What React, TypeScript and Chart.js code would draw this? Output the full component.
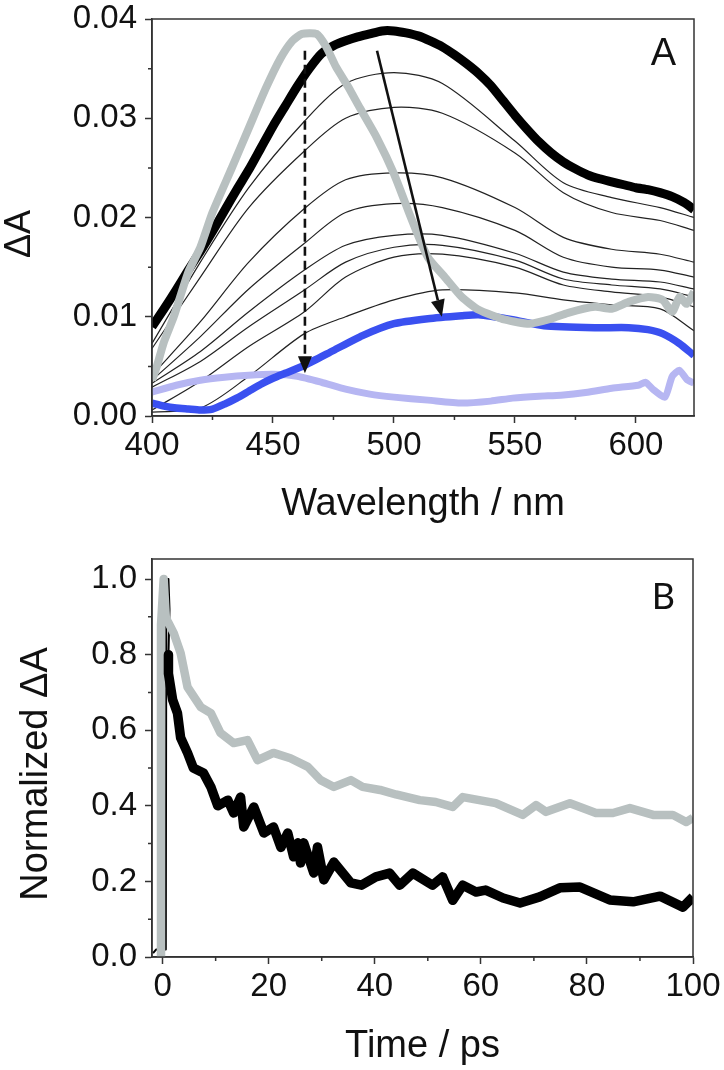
import React, { useEffect, useRef } from "react";
import { Chart, registerables } from "chart.js";

Chart.register(...registerables);

// ---------------- Panel A: transient spectra ----------------
const waveBlackThick = [400, 405, 410, 415, 420, 425, 430, 435, 440, 445, 450, 455, 460, 465, 470, 475, 480, 485, 490, 495, 500, 505, 510, 515, 520, 525, 530, 535, 540, 545, 550, 555, 560, 565, 570, 575, 580, 585, 590, 595, 600, 605, 610, 615, 620, 624];
const dABlackThick = [0.009, 0.0108, 0.0127, 0.0147, 0.0166, 0.0186, 0.0207, 0.0228, 0.0248, 0.027, 0.0292, 0.0312, 0.0332, 0.035, 0.0365, 0.0373, 0.0378, 0.0382, 0.0385, 0.0388, 0.0388, 0.0386, 0.0383, 0.0378, 0.0372, 0.0364, 0.0355, 0.0345, 0.0333, 0.0318, 0.0303, 0.0289, 0.0276, 0.0265, 0.0256, 0.0249, 0.0243, 0.0239, 0.0236, 0.0233, 0.023, 0.0228, 0.0225, 0.0221, 0.0215, 0.0208];

const waveGrey = [400, 402, 405, 409, 415, 420, 425, 433, 440, 447, 453, 458, 462, 468, 472, 476, 481, 486, 493, 500, 507, 514, 521, 528, 535, 546, 556, 565, 572, 583, 590, 597, 605, 611, 615, 618, 621, 624];
const dAGrey = [0.0036, 0.005, 0.0075, 0.01, 0.0145, 0.017, 0.0205, 0.025, 0.029, 0.033, 0.036, 0.0378, 0.0385, 0.0385, 0.0372, 0.0352, 0.0332, 0.031, 0.028, 0.0244, 0.02, 0.016, 0.014, 0.012, 0.0107, 0.0097, 0.0093, 0.0098, 0.0104, 0.011, 0.0108, 0.0115, 0.012, 0.0117, 0.0105, 0.012, 0.0113, 0.0125];

const waveBlue = [400, 405, 410, 415, 420, 425, 430, 435, 440, 445, 450, 455, 463, 475, 487, 500, 514, 528, 535, 549, 562, 583, 597, 605, 611, 618, 624];
const dABlue = [0.0013, 0.001, 0.0008, 0.0007, 0.0006, 0.0007, 0.0012, 0.0018, 0.0025, 0.0032, 0.0038, 0.0043, 0.0051, 0.0066, 0.0081, 0.0093, 0.0098, 0.0101, 0.0102, 0.0097, 0.0091, 0.0089, 0.0089, 0.0087, 0.0083, 0.0073, 0.0061];

const waveLavender = [400, 410, 420, 430, 440, 450, 460, 470, 480, 490, 500, 514, 528, 540, 549, 560, 569, 580, 590, 601, 604, 607, 612, 615, 618, 621, 624];
const dALavender = [0.0024, 0.0031, 0.0036, 0.0039, 0.0041, 0.0042, 0.004, 0.0034, 0.0027, 0.0022, 0.0019, 0.0016, 0.0013, 0.0015, 0.0018, 0.002, 0.0021, 0.0024, 0.0028, 0.0031, 0.0034, 0.0027, 0.0019, 0.004, 0.0046, 0.0037, 0.0033];

const waveThin = [400, 420, 440, 463, 480, 500, 520, 550, 570, 590, 610, 624];
const dAThin1 = [0.0073, 0.0155, 0.023, 0.0297, 0.0335, 0.0346, 0.0335, 0.0277, 0.0235, 0.022, 0.021, 0.02];
const dAThin2 = [0.0068, 0.014, 0.021, 0.0267, 0.03, 0.0311, 0.0305, 0.0265, 0.0225, 0.0205, 0.0197, 0.0187];
const dAThin3 = [0.0041, 0.0095, 0.0155, 0.0209, 0.0238, 0.0245, 0.024, 0.021, 0.018, 0.0168, 0.0163, 0.0155];
const dAThin4 = [0.0036, 0.008, 0.0128, 0.0174, 0.0205, 0.0214, 0.021, 0.0187, 0.016, 0.015, 0.0147, 0.014];
const dAThin5 = [0.0033, 0.0065, 0.0105, 0.0147, 0.0172, 0.0182, 0.0182, 0.0164, 0.0145, 0.0138, 0.0135, 0.0128];
const dAThin6 = [0.0029, 0.0055, 0.009, 0.0127, 0.0155, 0.017, 0.0172, 0.0157, 0.0138, 0.0132, 0.0128, 0.012];
const dAThin7 = [0.0006, 0.0035, 0.007, 0.0105, 0.014, 0.016, 0.0163, 0.015, 0.0132, 0.0125, 0.012, 0.011];
const dAThin8 = [0.0004, 0.0008, 0.004, 0.0083, 0.01, 0.0117, 0.0127, 0.0124, 0.0117, 0.0112, 0.0108, 0.0086];

const xTicksMinorA = [425, 475, 525, 575];
const yTicksMinorA = [0.005, 0.015, 0.025, 0.035];
const arrowSolidA = [[493, 0.0368], [519.8, 0.01]];
const arrowDashedA = [[463.2, 0.0368], [463.2, 0.0043]];

// ---------------- Panel B: kinetics ----------------
const timeGrey = [-0.3, -0.3, 0.2, 0.6, 0.9, 2.1, 3.4, 4.7, 7.2, 9.1, 10.9, 13.4, 16.0, 17.9, 20.9, 24.1, 27.4, 29.8, 32.3, 35.5, 37.7, 41, 44, 48.5, 51.5, 54.7, 56.6, 62.8, 67.9, 70.4, 72.3, 76.8, 81.7, 84.9, 88.1, 92.5, 96.2, 98.7, 100];
const normGrey = [0, 0.88, 1.0, 0.9, 0.89, 0.857, 0.804, 0.714, 0.661, 0.645, 0.593, 0.566, 0.574, 0.521, 0.54, 0.526, 0.503, 0.468, 0.45, 0.468, 0.45, 0.442, 0.43, 0.415, 0.41, 0.397, 0.423, 0.407, 0.376, 0.402, 0.384, 0.407, 0.381, 0.381, 0.394, 0.376, 0.376, 0.357, 0.368];

const timeBlackSpike = [-1.8, -1.2, 0.6, 0.7, 1.1, 1.3, 1.1];
const normBlackSpike = [0.01, 0.02, 0.02, 1.0, 1.0, 0.92, 0.8];

const timeBlack = [1.1, 1.1, 1.9, 2.8, 3.4, 4.7, 5.8, 7.7, 9.1, 10.4, 12.3, 13.4, 14.7, 15.3, 17.2, 19.1, 20.9, 22.3, 23.6, 24.7, 25.5, 26.0, 26.6, 28.5, 29.2, 30.4, 32.3, 35.5, 37.5, 40.2, 42.8, 44.7, 47.2, 50.9, 52.8, 54.7, 56.6, 59.1, 60.9, 64.2, 67.4, 71.1, 74.9, 78.7, 84.3, 88.7, 93.8, 98.1, 100];
const normBlack = [0.8, 0.75, 0.68, 0.645, 0.58, 0.54, 0.5, 0.487, 0.45, 0.4, 0.415, 0.381, 0.423, 0.344, 0.397, 0.328, 0.344, 0.29, 0.328, 0.265, 0.302, 0.249, 0.302, 0.222, 0.291, 0.204, 0.251, 0.196, 0.19, 0.212, 0.222, 0.19, 0.222, 0.19, 0.212, 0.15, 0.19, 0.172, 0.177, 0.156, 0.143, 0.159, 0.183, 0.185, 0.151, 0.146, 0.161, 0.132, 0.159];

const xTicksMinorB = [10, 30, 50, 70, 90];
const yTicksMinorB = [0.1, 0.3, 0.5, 0.7, 0.9];

// ---------------- helpers ----------------
const FONT = "Liberation Sans";
const AXIS = "#333333";
const TEXT = "#111111";

const pts = (xs: number[], ys: number[]) => xs.map((x, i) => ({ x, y: ys[i] }));

function line(data: { x: number; y: number }[], color: string, width: number, tension = 0) {
  return {
    data,
    borderColor: color,
    backgroundColor: color,
    borderWidth: width,
    pointRadius: 0,
    tension,
    fill: false,
    borderJoinStyle: "round" as const,
    borderCapStyle: "butt" as const,
  };
}

type Arrow = { pts: number[][]; dashed: boolean };

function panelPlugin(o: {
  minorX: number[];
  minorY: number[];
  xTitle: string;
  xTitleBaseline: number;
  yTitle: string;
  yTitleX: number;
  yTitleY: number;
  yTitleSize: number;
  letter: string;
  letterAt: number[];
  letterFont: string;
  arrows: Arrow[];
}) {
  return {
    id: "panelDecor",
    afterDatasetsDraw(chart: any) {
      const { ctx, chartArea: a } = chart;
      const xs = chart.scales.x;
      const ys = chart.scales.y;
      ctx.save();
      // arrows
      for (const ar of o.arrows) {
        const x1 = xs.getPixelForValue(ar.pts[0][0]);
        const y1 = ys.getPixelForValue(ar.pts[0][1]);
        const x2 = xs.getPixelForValue(ar.pts[1][0]);
        const y2 = ys.getPixelForValue(ar.pts[1][1]);
        const ang = Math.atan2(y2 - y1, x2 - x1);
        const head = 17;
        const hw = 7;
        const bx = x2 - head * Math.cos(ang);
        const by = y2 - head * Math.sin(ang);
        ctx.strokeStyle = "#111";
        ctx.fillStyle = "#111";
        ctx.lineWidth = 2.6;
        ctx.setLineDash(ar.dashed ? [9, 5] : []);
        ctx.beginPath();
        ctx.moveTo(x1, y1);
        ctx.lineTo(bx, by);
        ctx.stroke();
        ctx.setLineDash([]);
        ctx.beginPath();
        ctx.moveTo(x2, y2);
        ctx.lineTo(bx + hw * Math.sin(ang), by - hw * Math.cos(ang));
        ctx.lineTo(bx - hw * Math.sin(ang), by + hw * Math.cos(ang));
        ctx.closePath();
        ctx.fill();
      }
      // frame
      ctx.strokeStyle = AXIS;
      ctx.lineWidth = 1.5;
      ctx.strokeRect(a.left, a.top, a.right - a.left, a.bottom - a.top);
      // minor ticks
      ctx.beginPath();
      for (const v of o.minorX) {
        const p = xs.getPixelForValue(v);
        ctx.moveTo(p, a.bottom);
        ctx.lineTo(p, a.bottom + 4);
      }
      for (const v of o.minorY) {
        const p = ys.getPixelForValue(v);
        ctx.moveTo(a.left - 4, p);
        ctx.lineTo(a.left, p);
      }
      ctx.stroke();
      // titles
      ctx.fillStyle = TEXT;
      ctx.font = `38px "${FONT}"`;
      ctx.textAlign = "center";
      ctx.textBaseline = "alphabetic";
      ctx.fillText(o.xTitle, (a.left + a.right) / 2, o.xTitleBaseline);
      ctx.save();
      ctx.translate(o.yTitleX, o.yTitleY);
      ctx.rotate(-Math.PI / 2);
      ctx.textBaseline = "middle";
      ctx.font = `${o.yTitleSize}px "${FONT}"`;
      ctx.fillText(o.yTitle, 0, 0);
      ctx.restore();
      // panel letter
      ctx.font = o.letterFont;
      ctx.textBaseline = "middle";
      ctx.fillText(o.letter, xs.getPixelForValue(o.letterAt[0]), ys.getPixelForValue(o.letterAt[1]));
      ctx.restore();
    },
  };
}

function axisX(min: number, max: number, step: number, height: number) {
  return {
    type: "linear" as const,
    min,
    max,
    ticks: {
      stepSize: step,
      includeBounds: false,
      autoSkip: false,
      maxRotation: 0,
      padding: 3,
      color: TEXT,
      font: { family: FONT, size: 33 },
    },
    grid: { drawOnChartArea: false, drawTicks: true, tickLength: 7, tickWidth: 1.5, tickColor: AXIS, color: AXIS },
    border: { display: true, color: AXIS, width: 1.5 },
    afterFit: (s: any) => {
      s.height = height;
      s.paddingLeft = 0;
      s.paddingRight = 0;
    },
  };
}

function axisY(min: number, max: number, step: number, digits: number) {
  return {
    type: "linear" as const,
    min,
    max,
    ticks: {
      stepSize: step,
      includeBounds: false,
      autoSkip: false,
      padding: 8,
      color: TEXT,
      font: { family: FONT, size: 33 },
      callback: (v: any) => Number(v).toFixed(digits),
    },
    grid: { drawOnChartArea: false, drawTicks: true, tickLength: 7, tickWidth: 1.5, tickColor: AXIS, color: AXIS },
    border: { display: true, color: AXIS, width: 1.5 },
    afterFit: (s: any) => {
      s.width = 152;
      s.paddingTop = 0;
      s.paddingBottom = 0;
    },
  };
}

export default function App() {
  const refA = useRef<HTMLCanvasElement | null>(null);
  const refB = useRef<HTMLCanvasElement | null>(null);

  useEffect(() => {
    if (!refA.current || !refB.current) return;
    const thin = "#222222";
    const chartA = new Chart(refA.current, {
      type: "line",
      data: {
        datasets: [
          line(pts(waveGrey, dAGrey), "#b8c0c0", 8, 0.2),
          line(pts(waveBlue, dABlue), "#3a50f0", 7.5, 0.2),
          line(pts(waveBlackThick, dABlackThick), "#000000", 9, 0.2),
          line(pts(waveLavender, dALavender), "#b6b6f2", 7, 0.2),
          line(pts(waveThin, dAThin1), thin, 1.2, 0.3),
          line(pts(waveThin, dAThin2), thin, 1.2, 0.3),
          line(pts(waveThin, dAThin3), thin, 1.2, 0.3),
          line(pts(waveThin, dAThin4), thin, 1.2, 0.3),
          line(pts(waveThin, dAThin5), thin, 1.2, 0.3),
          line(pts(waveThin, dAThin6), thin, 1.2, 0.3),
          line(pts(waveThin, dAThin7), thin, 1.2, 0.3),
          line(pts(waveThin, dAThin8), thin, 1.2, 0.3),
        ] as any,
      },
      options: {
        responsive: false,
        animation: false,
        layout: { padding: { top: 19, right: 30, left: 0, bottom: 0 } },
        plugins: { legend: { display: false }, tooltip: { enabled: false } },
        scales: {
          x: axisX(400, 624, 50, 114),
          y: axisY(0, 0.04, 0.01, 2),
        } as any,
      },
      plugins: [
        panelPlugin({
          minorX: xTicksMinorA,
          minorY: yTicksMinorA,
          xTitle: "Wavelength / nm",
          xTitleBaseline: 515,
          yTitle: "ΔA",
          yTitleX: 20,
          yTitleY: 234,
          yTitleSize: 36,
          letter: "A",
          letterAt: [611.4, 0.0364],
          letterFont: `38px "${FONT}"`,
          arrows: [
            { pts: arrowSolidA, dashed: false },
            { pts: arrowDashedA, dashed: true },
          ],
        }),
      ],
    });

    const chartB = new Chart(refB.current, {
      type: "line",
      data: {
        datasets: [
          line(pts(timeBlack, normBlack), "#000000", 9.5, 0),
          line(pts(timeGrey, normGrey), "#b8c0c0", 8.5, 0),
          line(pts(timeBlackSpike, normBlackSpike), "#000000", 2, 0),
        ] as any,
      },
      options: {
        responsive: false,
        animation: false,
        layout: { padding: { top: 29, right: 31, left: 0, bottom: 0 } },
        plugins: { legend: { display: false }, tooltip: { enabled: false } },
        scales: {
          x: axisX(-2, 100, 20, 113),
          y: axisY(0, 1.053, 0.2, 1),
        } as any,
      },
      plugins: [
        panelPlugin({
          minorX: xTicksMinorB,
          minorY: yTicksMinorB,
          xTitle: "Time / ps",
          xTitleBaseline: 527,
          yTitle: "Normalized ΔA",
          yTitleX: 37,
          yTitleY: 244,
          yTitleSize: 38,
          letter: "B",
          letterAt: [94.4, 0.951],
          letterFont: `36px "Lato"`,
          arrows: [],
        }),
      ],
    });

    return () => {
      chartA.destroy();
      chartB.destroy();
    };
  }, []);

  return (
    <div style={{ position: "absolute", left: 0, top: 0, width: 724, height: 1070, background: "#fff" }}>
      <canvas ref={refA} width={724} height={530} style={{ position: "absolute", left: 0, top: 0, width: 724, height: 530 }} />
      <canvas ref={refB} width={724} height={540} style={{ position: "absolute", left: 0, top: 530, width: 724, height: 540 }} />
    </div>
  );
}
